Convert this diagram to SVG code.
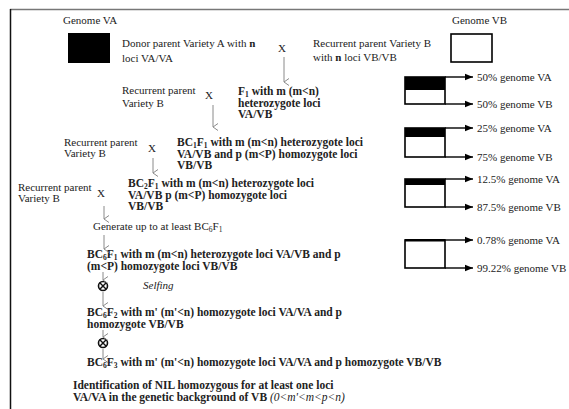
<svg xmlns="http://www.w3.org/2000/svg" width="569" height="409" viewBox="0 0 569 409">
<style>
text{font-family:"Liberation Serif","Times New Roman",serif;fill:#222;font-size:11px}
.b{font-weight:bold;font-size:11.5px}
.i{font-style:italic}
.s{font-size:7.5px}
.g{stroke:#8a8a8a;stroke-width:1;fill:none}
.box{stroke:#000;stroke-width:1.6;fill:#fff}
.ar{stroke:#000;stroke-width:1.4;fill:none}
</style>
<defs>
<marker id="v" markerWidth="8" markerHeight="8" refX="4" refY="7" orient="auto" markerUnits="userSpaceOnUse" viewBox="0 0 8 8">
<path d="M0.5,2 L4,7 L7.5,2" fill="none" stroke="#8a8a8a" stroke-width="1"/>
</marker>
<marker id="h" markerWidth="9" markerHeight="8" refX="8" refY="4" orient="auto" markerUnits="userSpaceOnUse" viewBox="0 0 9 8">
<path d="M0,0.8 L8,4 L0,7.2 z" fill="#000"/>
</marker>
</defs>
<rect width="569" height="409" fill="#fff"/>
<g id="frame">
<line x1="10" y1="9.5" x2="569" y2="9.5" stroke="#777" stroke-width="1.5"/>
<line x1="10.5" y1="9" x2="10.5" y2="409" stroke="#111" stroke-width="1.5"/>
</g>
<g id="genomeVA">
<text x="63" y="24">Genome VA</text>
<rect x="68" y="33" width="42" height="30" fill="#000"/>
</g>
<g id="donor">
<text x="122" y="47">Donor parent Variety A with <tspan font-weight="bold">n</tspan></text>
<text x="122" y="62">loci VA/VA</text>
</g>
<g id="genomeVB">
<text x="452" y="24">Genome VB</text>
<rect class="box" x="451" y="34" width="41" height="28"/>
</g>
<g id="recurrent1">
<text x="313" y="47">Recurrent parent Variety B</text>
<text x="313" y="61">with <tspan font-weight="bold">n</tspan> loci VB/VB</text>
</g>
<g id="recurrent2">
<text x="122" y="94">Recurrent parent</text>
<text x="122" y="107">Variety B</text>
</g>
<g id="F1">
<text class="b" x="238" y="95">F<tspan class="s" dy="1.5">1</tspan><tspan dy="-1.5"> with m (m&lt;n)</tspan></text>
<text class="b" x="238" y="107">heterozygote loci</text>
<text class="b" x="238" y="118">VA/VB</text>
</g>
<g id="recurrent3">
<text x="64" y="146">Recurrent parent</text>
<text x="64" y="157">Variety B</text>
</g>
<g id="BC1F1">
<text class="b" x="177" y="146">BC<tspan class="s" dy="1.5">1</tspan><tspan dy="-1.5">F</tspan><tspan class="s" dy="1.5">1</tspan><tspan dy="-1.5"> with m (m&lt;n) heterozygote loci</tspan></text>
<text class="b" x="177" y="158">VA/VB and p (m&lt;P) homozygote loci</text>
<text class="b" x="177" y="169">VB/VB</text>
</g>
<g id="recurrent4">
<text x="18" y="191">Recurrent parent</text>
<text x="18" y="202">Variety B</text>
</g>
<g id="BC2F1">
<text class="b" x="128" y="187">BC<tspan class="s" dy="1.5">2</tspan><tspan dy="-1.5">F</tspan><tspan class="s" dy="1.5">1</tspan><tspan dy="-1.5"> with m (m&lt;n) heterozygote loci</tspan></text>
<text class="b" x="128" y="199">VA/VB p (m&lt;P) homozygote loci</text>
<text class="b" x="128" y="210">VB/VB</text>
</g>
<g id="generate">
<text x="93" y="230">Generate up to at least  BC<tspan class="s" dy="1.5">6</tspan><tspan dy="-1.5">F</tspan><tspan class="s" dy="1.5">1</tspan></text>
</g>
<g id="BC6F1">
<text class="b" x="87" y="258">BC<tspan class="s" dy="1.5">6</tspan><tspan dy="-1.5">F</tspan><tspan class="s" dy="1.5">1</tspan><tspan dy="-1.5"> with m (m&lt;n) heterozygote loci VA/VB  and  p</tspan></text>
<text class="b" x="87" y="270">(m&lt;P) homozygote loci VB/VB</text>
</g>
<g id="selfing1">
<circle cx="103" cy="286" r="4.5" fill="none" stroke="#111" stroke-width="1.6"/>
<path d="M99.8,282.8 L106.2,289.2 M106.2,282.8 L99.8,289.2" stroke="#111" stroke-width="1.4"/>
<text class="i" x="143" y="289">Selfing</text>
</g>
<g id="BC6F2">
<text class="b" x="87" y="316">BC<tspan class="s" dy="1.5">6</tspan><tspan dy="-1.5">F</tspan><tspan class="s" dy="1.5">2</tspan><tspan dy="-1.5"> with m' (m'&lt;n) homozygote loci VA/VA and p</tspan></text>
<text class="b" x="87" y="328">homozygote VB/VB</text>
</g>
<g id="selfing2">
<circle cx="103" cy="343" r="4.5" fill="none" stroke="#111" stroke-width="1.6"/>
<path d="M99.8,339.8 L106.2,346.2 M106.2,339.8 L99.8,346.2" stroke="#111" stroke-width="1.4"/>
</g>
<g id="BC6F3">
<text class="b" x="87" y="366">BC<tspan class="s" dy="1.5">6</tspan><tspan dy="-1.5">F</tspan><tspan class="s" dy="1.5">3</tspan><tspan dy="-1.5"> with m' (m'&lt;n) homozygote loci VA/VA and p homozygote VB/VB</tspan></text>
</g>
<g id="identification">
<text class="b" x="73" y="389">Identification of NIL homozygous for at least one loci</text>
<text class="b" x="73" y="401">VA/VA  in the genetic background of VB <tspan class="i" font-weight="normal">(0&lt;m'&lt;m&lt;p&lt;n)</tspan></text>
</g>
<g id="crosses">
<text x="278" y="52">X</text>
<text x="205" y="99">X</text>
<text x="148" y="152">X</text>
<text x="97" y="197">X</text>
</g>
<g id="box50">
<rect class="box" x="405" y="77" width="40" height="27"/>
<rect x="405" y="77" width="40" height="13" fill="#000"/>
<text x="477" y="81">50% genome VA</text>
<text x="477" y="108">50% genome VB</text>
</g>
<g id="box25">
<rect class="box" x="405" y="128" width="40" height="29"/>
<rect x="405" y="128" width="40" height="9" fill="#000"/>
<text x="477" y="132">25% genome VA</text>
<text x="477" y="161">75% genome VB</text>
</g>
<g id="box12">
<rect class="box" x="405" y="179" width="40" height="28"/>
<rect x="405" y="179" width="40" height="6" fill="#000"/>
<text x="477" y="183">12.5% genome VA</text>
<text x="477" y="211">87.5% genome VB</text>
</g>
<g id="box078">
<rect class="box" x="405" y="240" width="40" height="28"/>
<rect x="405" y="239" width="40" height="2.5" fill="#000"/>
<text x="477" y="244">0.78% genome VA</text>
<text x="477" y="272">99.22% genome VB</text>
</g>
<g id="connectors">
<line class="g" x1="284" y1="57" x2="284" y2="82" marker-end="url(#v)"/>
<line class="g" x1="213" y1="105" x2="213" y2="127" marker-end="url(#v)"/>
<line class="g" x1="153" y1="158" x2="153" y2="173" marker-end="url(#v)"/>
<line class="g" x1="104" y1="206" x2="104" y2="219" marker-end="url(#v)"/>
<line class="g" x1="104" y1="235" x2="104" y2="249" marker-end="url(#v)"/>
<line class="g" x1="103" y1="272" x2="103" y2="280" marker-end="url(#v)"/>
<line class="g" x1="103" y1="292" x2="103" y2="306" marker-end="url(#v)"/>
<line class="g" x1="103" y1="330" x2="103" y2="337" marker-end="url(#v)"/>
<line class="g" x1="103" y1="349" x2="103" y2="359" marker-end="url(#v)"/>
<line class="ar" x1="445" y1="77" x2="473" y2="77" marker-end="url(#h)"/>
<line class="ar" x1="445" y1="104" x2="473" y2="104" marker-end="url(#h)"/>
<line class="ar" x1="445" y1="128" x2="473" y2="128" marker-end="url(#h)"/>
<line class="ar" x1="445" y1="157" x2="473" y2="157" marker-end="url(#h)"/>
<line class="ar" x1="445" y1="179" x2="473" y2="179" marker-end="url(#h)"/>
<line class="ar" x1="445" y1="207" x2="473" y2="207" marker-end="url(#h)"/>
<line class="ar" x1="445" y1="240" x2="473" y2="240" marker-end="url(#h)"/>
<line class="ar" x1="445" y1="268" x2="473" y2="268" marker-end="url(#h)"/>
</g>
</svg>
